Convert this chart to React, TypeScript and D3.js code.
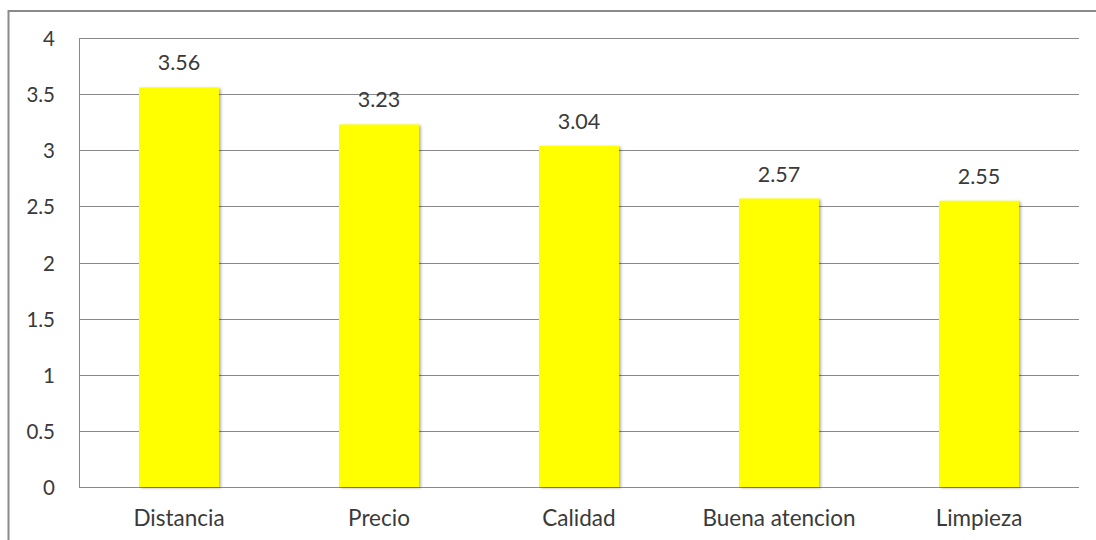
import React from "react";
import * as d3 from "d3";

const categories: string[] = ["Distancia", "Precio", "Calidad", "Buena atencion", "Limpieza"];
const values: number[] = [3.56, 3.23, 3.04, 2.57, 2.55];
const yTicks: number[] = [0, 0.5, 1, 1.5, 2, 2.5, 3, 3.5, 4];

const W = 1096;
const H = 540;
const plot = { left: 79, right: 1079, top: 38, bottom: 487 };
const FONT = "Lato, 'Noto Sans', sans-serif";
const TEXT = "#3a3a3a";
const GRID = "#898989";

export default function App() {
  const x = d3
    .scaleBand<string>()
    .domain(categories)
    .range([plot.left, plot.right])
    .paddingInner(0.6)
    .paddingOuter(0.3);
  const y = d3.scaleLinear().domain([0, 4]).range([plot.bottom, plot.top]);
  const fmt = (v: number) => String(v);

  return (
    <svg
      width={W}
      height={H}
      style={{ position: "absolute", left: 0, top: 0, background: "#fff" }}
      fontFamily={FONT}
    >
      <defs>
        <filter id="barShadow" x="-10%" y="-5%" width="130%" height="115%">
          <feGaussianBlur in="SourceAlpha" stdDeviation="1.5" />
          <feOffset dx="2" dy="1" result="off" />
          <feComponentTransfer>
            <feFuncA type="linear" slope="0.3" />
          </feComponentTransfer>
          <feMerge>
            <feMergeNode />
            <feMergeNode in="SourceGraphic" />
          </feMerge>
        </filter>
      </defs>

      {/* chart frame */}
      <rect x={8.5} y={11} width={1200} height={600} fill="none" stroke="#8a8a8a" strokeWidth={2} />

      {/* horizontal gridlines */}
      {yTicks.map((t) => (
        <line
          key={`g${t}`}
          x1={plot.left}
          x2={plot.right}
          y1={Math.round(y(t)) + 0.5}
          y2={Math.round(y(t)) + 0.5}
          stroke={GRID}
          strokeWidth={1}
        />
      ))}

      {/* value axis line */}
      <line x1={plot.left + 0.5} x2={plot.left + 0.5} y1={plot.top} y2={plot.bottom + 1} stroke={GRID} strokeWidth={1} />

      {/* y tick labels */}
      {yTicks.map((t) => (
        <text
          key={`t${t}`}
          x={55}
          y={y(t)}
          textAnchor="end"
          dominantBaseline="central"
          fontSize={20.5}
          fill={TEXT}
        >
          {fmt(t)}
        </text>
      ))}

      {/* bars */}
      {categories.map((c, i) => (
        <rect
          key={`b${c}`}
          x={x(c)!}
          y={y(values[i])}
          width={x.bandwidth()}
          height={y(0) - y(values[i])}
          fill="#FFFF00"
          filter="url(#barShadow)"
        />
      ))}

      {/* value labels */}
      {categories.map((c, i) => (
        <text
          key={`v${c}`}
          x={x(c)! + x.bandwidth() / 2}
          y={y(values[i]) - 17}
          textAnchor="middle"
          fontSize={21.5}
          fill={TEXT}
        >
          {values[i].toFixed(2)}
        </text>
      ))}

      {/* category labels */}
      {categories.map((c) => (
        <text
          key={`c${c}`}
          x={x(c)! + x.bandwidth() / 2}
          y={526}
          textAnchor="middle"
          fontSize={22.5}
          fill={TEXT}
        >
          {c}
        </text>
      ))}
    </svg>
  );
}
